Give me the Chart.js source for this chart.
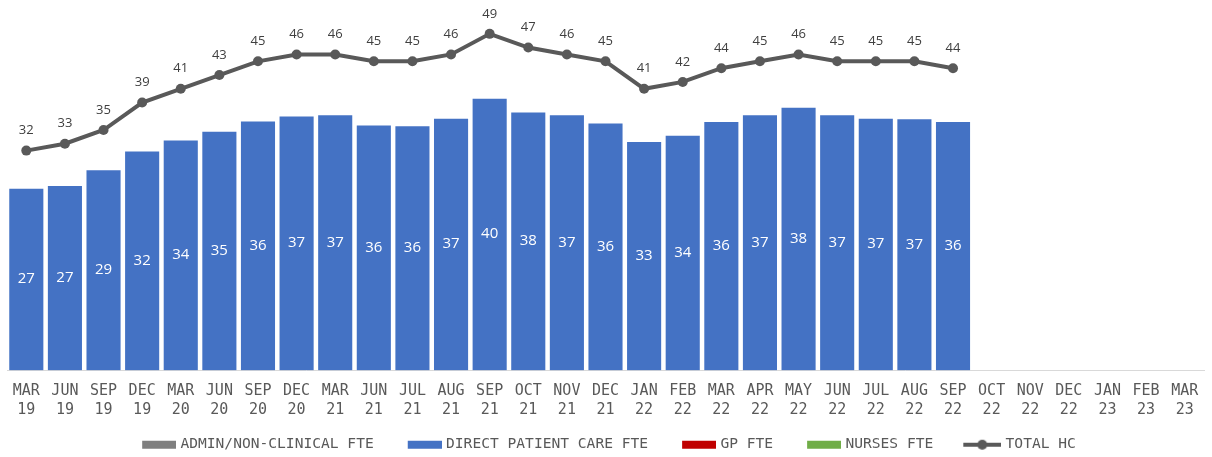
<!DOCTYPE html>
<html lang="en">
<head>
    <meta charset="UTF-8">
    <title>Workforce FTE and headcount</title>
    <script src="https://cdn.jsdelivr.net/npm/chart.js"></script>
    <style>
        body {
            margin: 0;
            padding: 0;
            background-color: #fff;
        }
        #wrap {
            width: 1212px;
            height: 457px;
            overflow: hidden;
        }
    </style>
</head>
<body>
    <div id="wrap">
        <canvas id="staffChart" width="1212" height="457"></canvas>
    </div>

    <script>
        // quarters / months on the x axis
        var periods = ['MAR 19', 'JUN 19', 'SEP 19', 'DEC 19', 'MAR 20', 'JUN 20', 'SEP 20', 'DEC 20',
            'MAR 21', 'JUN 21', 'JUL 21', 'AUG 21', 'SEP 21', 'OCT 21', 'NOV 21', 'DEC 21',
            'JAN 22', 'FEB 22', 'MAR 22', 'APR 22', 'MAY 22', 'JUN 22', 'JUL 22', 'AUG 22', 'SEP 22',
            'OCT 22', 'NOV 22', 'DEC 22', 'JAN 23', 'FEB 23', 'MAR 23'];

        // direct patient care FTE (bars)
        var directCareFte = [26.6, 27.0, 29.3, 32.0, 33.6, 34.9, 36.4, 37.1, 37.3, 35.8, 35.7, 36.8, 39.7,
            37.7, 37.3, 36.1, 33.4, 34.3, 36.3, 37.3, 38.4, 37.3, 36.8, 36.7, 36.3];

        // total headcount (line)
        var totalHc = [32, 33, 35, 39, 41, 43, 45, 46, 46, 45, 45, 46, 49, 47, 46, 45, 41, 42, 44, 45, 46,
            45, 45, 45, 44];

        // no figures yet for these series
        var adminFte = [];
        var gpFte = [];
        var nursesFte = [];

        Chart.defaults.font.family = '"DejaVu Sans Mono", monospace';

        // legend swatches: transparent lead-in gives the spacing between items
        function swatch(color, isLine) {
            var c = document.createElement('canvas');
            c.width = 64;
            c.height = 12;
            var g = c.getContext('2d');
            g.fillStyle = color;
            if (isLine) {
                g.fillRect(26, 4, 38, 4);
                g.beginPath();
                g.arc(45, 6, 5, 0, Math.PI * 2);
                g.fill();
            } else {
                g.fillRect(30, 2, 34, 8);
            }
            return c;
        }

        var swatches = [
            swatch('#7f7f7f', false),
            swatch('#4472c4', false),
            swatch('#c00000', false),
            swatch('#70ad47', false),
            swatch('#595959', true)
        ];

        // value labels: inside the bars and above the line points
        var valueLabels = {
            id: 'valueLabels',
            afterDatasetsDraw: function (chart) {
                var ctx = chart.ctx;
                chart.data.datasets.forEach(function (ds, i) {
                    var meta = chart.getDatasetMeta(i);
                    meta.data.forEach(function (el, j) {
                        var v = ds.data[j];
                        if (v === null || v === undefined) return;
                        ctx.save();
                        ctx.textAlign = 'center';
                        ctx.textBaseline = 'middle';
                        if (meta.type === 'bar') {
                            ctx.fillStyle = '#ffffff';
                            ctx.font = '15px "Open Sans"';
                            ctx.fillText(Math.round(v), el.x, (el.y + el.base) / 2);
                        } else {
                            ctx.fillStyle = '#404040';
                            ctx.font = '13px "Open Sans"';
                            ctx.fillText(Math.round(v), el.x, el.y - 20);
                        }
                        ctx.restore();
                    });
                });
            }
        };

        // the swatch lead-in pushes the legend right; pull it back a little
        var legendNudge = {
            id: 'legendNudge',
            afterLayout: function (chart) {
                chart.legend.left -= 10;
                chart.legend.right -= 10;
            }
        };

        var ctx = document.getElementById('staffChart').getContext('2d');
        var staffChart = new Chart(ctx, {
            data: {
                labels: periods,
                datasets: [
                    { type: 'bar', label: 'ADMIN/NON-CLINICAL FTE', data: adminFte, backgroundColor: '#7f7f7f', grouped: false, order: 2 },
                    {
                        type: 'bar',
                        label: 'DIRECT PATIENT CARE FTE',
                        data: directCareFte,
                        backgroundColor: '#4472c4',
                        borderColor: 'rgba(255, 255, 255, 0.45)',
                        borderWidth: 1,
                        grouped: false,
                        categoryPercentage: 1,
                        barPercentage: 0.935,
                        order: 2
                    },
                    { type: 'bar', label: 'GP FTE', data: gpFte, backgroundColor: '#c00000', grouped: false, order: 2 },
                    { type: 'bar', label: 'NURSES FTE', data: nursesFte, backgroundColor: '#70ad47', grouped: false, order: 2 },
                    {
                        type: 'line',
                        label: 'TOTAL HC',
                        data: totalHc,
                        borderColor: '#595959',
                        backgroundColor: '#595959',
                        borderWidth: 4,
                        pointRadius: 5,
                        pointBackgroundColor: '#595959',
                        pointBorderWidth: 0,
                        tension: 0,
                        order: 1
                    }
                ]
            },
            options: {
                responsive: false,
                animation: false,
                layout: {
                    padding: { left: 7, right: 8, top: 0, bottom: -5 }
                },
                scales: {
                    x: {
                        grid: { display: false, drawTicks: false },
                        border: { display: true, color: '#d9d9d9', width: 1 },
                        ticks: {
                            color: '#595959',
                            padding: 11,
                            maxRotation: 0,
                            autoSkip: false,
                            font: { size: 15, lineHeight: '19px' },
                            callback: function (value) {
                                return this.getLabelForValue(value).split(' ');
                            }
                        }
                    },
                    y: {
                        display: false,
                        min: 0,
                        max: 53.2
                    }
                },
                plugins: {
                    tooltip: { enabled: false },
                    legend: {
                        position: 'bottom',
                        labels: {
                            color: '#595959',
                            font: { size: 14.6 },
                            padding: 7,
                            usePointStyle: true,
                            pointStyleWidth: 58,
                            sort: function (a, b) { return a.datasetIndex - b.datasetIndex; },
                            generateLabels: function (chart) {
                                var items = Chart.defaults.plugins.legend.labels.generateLabels(chart);
                                items.forEach(function (item) {
                                    item.pointStyle = swatches[item.datasetIndex];
                                });
                                return items;
                            }
                        }
                    }
                }
            },
            plugins: [valueLabels, legendNudge]
        });
    </script>
</body>
</html>
